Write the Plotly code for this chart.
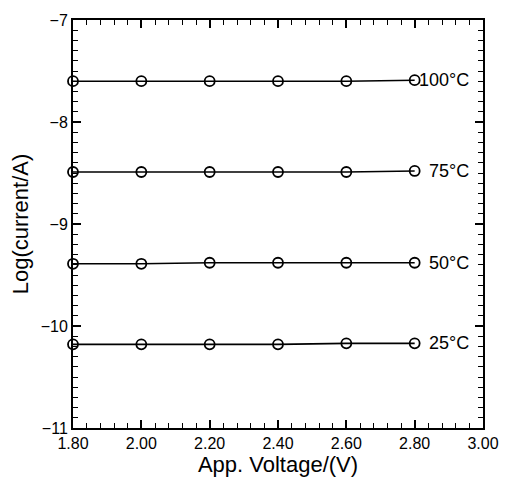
import plotly.graph_objects as go

voltage = [1.80, 2.00, 2.20, 2.40, 2.60, 2.80]
log_i_100C = [-7.60, -7.60, -7.60, -7.60, -7.60, -7.59]
log_i_75C = [-8.49, -8.49, -8.49, -8.49, -8.49, -8.48]
log_i_50C = [-9.39, -9.39, -9.38, -9.38, -9.38, -9.38]
log_i_25C = [-10.18, -10.18, -10.18, -10.18, -10.17, -10.17]
series_labels = ["100°C", "75°C", "50°C", "25°C"]
series_values = [log_i_100C, log_i_75C, log_i_50C, log_i_25C]

x_range = [1.80, 3.00]
y_range = [-11, -7]

FONT = "Liberation Sans"

fig = go.Figure()
for lab, vals in zip(series_labels, series_values):
    fig.add_trace(go.Scatter(
        x=voltage, y=vals, mode="lines+markers", name=lab,
        line=dict(color="black", width=1.6),
        marker=dict(symbol="circle-open", size=10, color="black", line=dict(width=1.8)),
        cliponaxis=False, showlegend=False,
    ))
    fig.add_annotation(x=2.965, y=vals[-1], text=lab, showarrow=False,
                       xanchor="right", yanchor="middle",
                       font=dict(family=FONT, size=18, color="black"))

# invisible trace so the minor-tick overlay axes are drawn
fig.add_trace(go.Scatter(x=[x_range[0]], y=[y_range[0]], xaxis="x2", yaxis="y2",
                         mode="markers", marker=dict(opacity=0), showlegend=False,
                         hoverinfo="skip"))

fig.update_layout(
    width=511, height=482,
    margin=dict(l=73, r=18, t=13, b=50),
    paper_bgcolor="white", plot_bgcolor="white",
    font=dict(family=FONT, color="black"),
    xaxis=dict(
        range=x_range, tickmode="linear", tick0=1.8, dtick=0.2, tickformat=".2f",
        ticks="inside", ticklen=8, tickwidth=1.5, tickcolor="black",
        showline=True, linecolor="black", linewidth=2, mirror="ticks",
        showgrid=False, zeroline=False,
        tickfont=dict(family=FONT, size=16),
        title=dict(text="App. Voltage/(V)", font=dict(family=FONT, size=22), standoff=2),
    ),
    yaxis=dict(
        range=y_range, tickmode="linear", tick0=-11, dtick=1,
        ticks="inside", ticklen=8, tickwidth=1.5, tickcolor="black",
        showline=True, linecolor="black", linewidth=2, mirror="ticks",
        showgrid=False, zeroline=False,
        tickfont=dict(family=FONT, size=16),
        title=dict(text="Log(current/A)", font=dict(family=FONT, size=22), standoff=6),
    ),
    xaxis2=dict(overlaying="x", anchor="y2", side="bottom", range=x_range,
                tickmode="linear", tick0=1.8, dtick=0.04, ticks="inside",
                ticklen=5, tickwidth=1.3, tickcolor="black", mirror="ticks",
                showticklabels=False, showgrid=False, zeroline=False, showline=False),
    yaxis2=dict(overlaying="y", anchor="x2", side="left", range=y_range,
                tickmode="linear", tick0=-11, dtick=0.1, ticks="inside",
                ticklen=5, tickwidth=1.3, tickcolor="black", mirror="ticks",
                showticklabels=False, showgrid=False, zeroline=False, showline=False),
)

fig.write_html("out.html")
